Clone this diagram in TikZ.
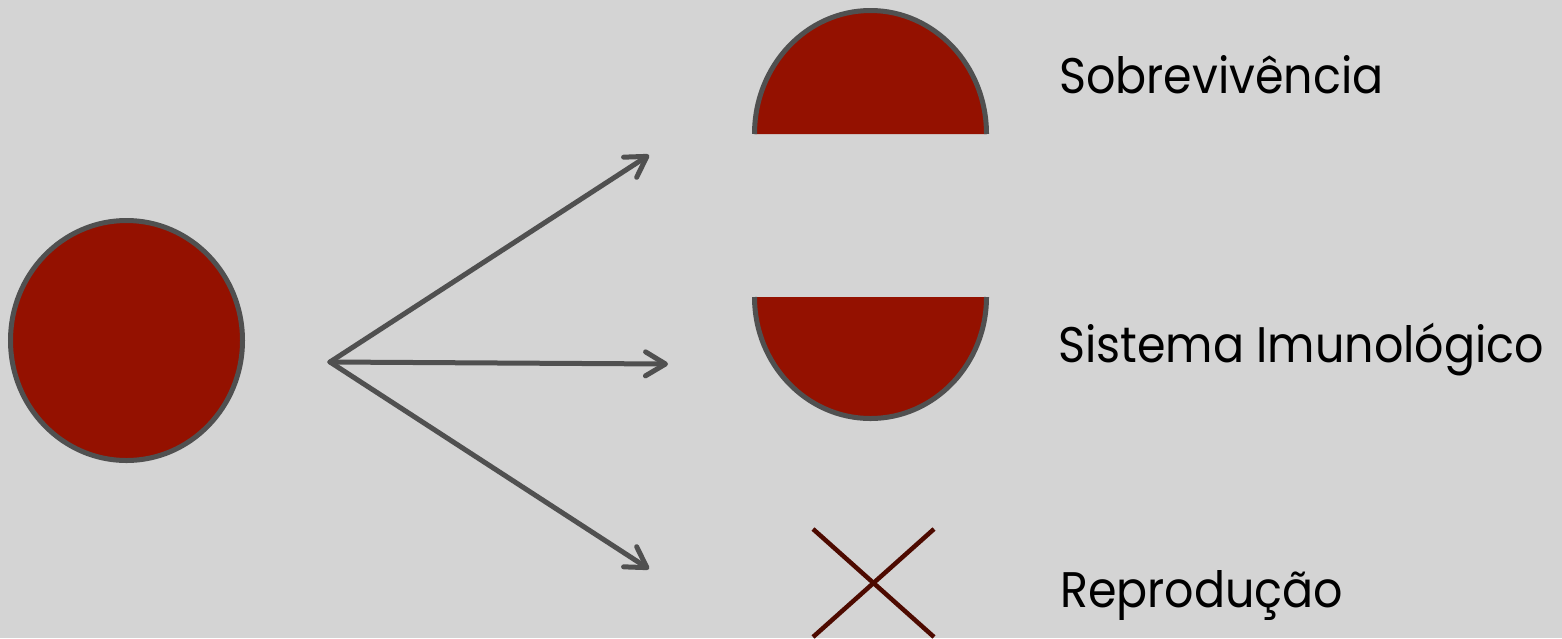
\documentclass[tikz,border=0pt]{standalone}
\usepackage{fontspec}
\setmainfont{Poppins}[FakeStretch=0.92]
\usetikzlibrary{arrows.meta}
\definecolor{bg}{HTML}{D4D4D4}
\definecolor{cellred}{HTML}{941100}
\definecolor{edge}{HTML}{505050}
\definecolor{crosscol}{HTML}{4D0A00}
\begin{document}
\begin{tikzpicture}[x=1pt,y=-1pt,
  disc/.style={fill=cellred,draw=edge,line width=5pt},
  halffill/.style={fill=cellred},
  halfedge/.style={draw=edge,line width=5pt},
  branch/.style={draw=edge,line width=5pt,line cap=round,-{Straight Barb[length=20pt,width=24pt,line cap=round,line join=round]}},
  crossline/.style={draw=crosscol,line width=4.5pt},
  label/.style={anchor=base west,inner sep=0pt,font=\fontsize{50}{58}\selectfont,text=black}]
\fill[bg] (0,0) rectangle (1562,638);
\useasboundingbox (0,0) rectangle (1562,638);
% source cell
\draw[disc] (126.5,340.5) ellipse [x radius=116, y radius=120];
% split cell: top half
\fill[halffill] (754.5,134) arc[start angle=180,end angle=360,x radius=116,y radius=123.5] -- cycle;
\draw[halfedge] (754.5,134) arc[start angle=180,end angle=360,x radius=116,y radius=123.5];
% split cell: bottom half
\fill[halffill] (754.5,297) arc[start angle=180,end angle=0,x radius=116,y radius=121.5] -- cycle;
\draw[halfedge] (754.5,297) arc[start angle=180,end angle=0,x radius=116,y radius=121.5];
% arrows
\coordinate (hub) at (330,362);
\coordinate (t1) at (649,155);
\coordinate (t2) at (668,364);
\coordinate (t3) at (649,569);
\draw[branch] (hub) -- (t1);
\draw[branch] (hub) -- (t2);
\draw[branch] (hub) -- (t3);
% cross
\coordinate (c1) at (813,529);
\coordinate (c2) at (934,637);
\coordinate (c3) at (934,529);
\coordinate (c4) at (813,637);
\draw[crossline] (c1) -- (c2);
\draw[crossline] (c3) -- (c4);
% labels
\node[label] (l1) at (1059,93) {Sobrevivência};
\node[label] (l2) at (1058,362) {Sistema Imunológico};
\node[label] (l3) at (1060,607) {Reprodução};
\end{tikzpicture}
\end{document}
